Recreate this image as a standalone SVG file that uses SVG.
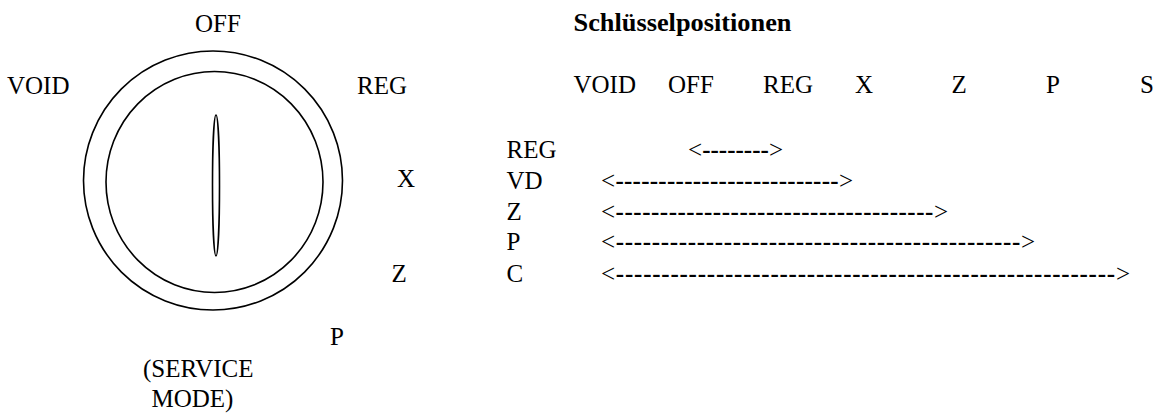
<svg xmlns="http://www.w3.org/2000/svg" width="1157" height="414" viewBox="0 0 1157 414">
<style>
text{font-family:"Liberation Serif","Times New Roman",serif;font-size:25px;fill:#000}
.b{font-weight:bold}
.dial{fill:none;stroke:#000;stroke-width:1.6}
</style>
<rect width="1157" height="414" fill="#fff"/>
<g id="dial">
<circle class="dial" cx="213" cy="180.5" r="129.5"/>
<ellipse class="dial" cx="214.5" cy="182" rx="108.5" ry="110.5"/>
<ellipse class="dial" cx="216" cy="185.5" rx="3.5" ry="70.5"/>
</g>
<g id="dial-labels">
<text x="195" y="31.5">OFF</text>
<text x="7" y="93.5" font-size="25.5">VOID</text>
<text x="357" y="93.5">REG</text>
<text x="397" y="186.5">X</text>
<text x="391.5" y="281.5">Z</text>
<text x="330" y="345">P</text>
<text x="143" y="376.5">(SERVICE</text>
<text x="151.5" y="406.5">MODE)</text>
</g>
<g id="table-header">
<text class="b" x="573.5" y="31" textLength="218" lengthAdjust="spacingAndGlyphs">Schlüsselpositionen</text>
<text x="573.5" y="93">VOID</text>
<text x="668" y="93">OFF</text>
<text x="763" y="93">REG</text>
<text x="855" y="93">X</text>
<text x="951.5" y="93">Z</text>
<text x="1046" y="93">P</text>
<text x="1140" y="93">S</text>
</g>
<g id="row-labels">
<text x="506.5" y="157.5">REG</text>
<text x="506.5" y="188.5">VD</text>
<text x="506.5" y="219.5">Z</text>
<text x="506.5" y="250">P</text>
<text x="506.5" y="281.5">C</text>
</g>
<g id="connectors">
<text x="688" y="157.5" textLength="95" lengthAdjust="spacing">&lt;<tspan class="b">--------</tspan>&gt;</text>
<text x="601" y="188.5" textLength="252" lengthAdjust="spacing">&lt;<tspan class="b">--------------------------</tspan>&gt;</text>
<text x="601" y="219.5" textLength="347" lengthAdjust="spacing">&lt;<tspan class="b">------------------------------------</tspan>&gt;</text>
<text x="601" y="250" textLength="434" lengthAdjust="spacing">&lt;<tspan class="b">---------------------------------------------</tspan>&gt;</text>
<text x="601" y="281.5" textLength="529" lengthAdjust="spacing">&lt;<tspan class="b">-------------------------------------------------------</tspan>&gt;</text>
</g>
</svg>
